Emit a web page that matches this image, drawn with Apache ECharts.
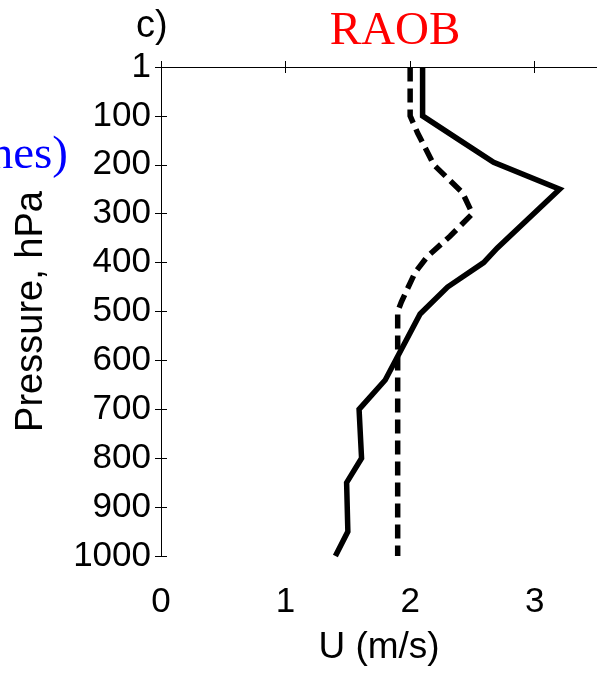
<!DOCTYPE html>
<html>
<head>
<meta charset="utf-8">
<script src="https://cdn.jsdelivr.net/npm/echarts@6/dist/echarts.min.js"></script>
<style>
html,body{margin:0;padding:0;background:#fff;}
#chart{width:597px;height:674px;}
</style>
</head>
<body>
<div id="chart"></div>
<script>
// Solid profile: pressure (hPa) and U (m/s)
var solidP = [1, 100, 150, 195, 250, 370, 400, 450, 505, 640, 700, 800, 850, 950, 1000];
var solidU = [2.10, 2.10, 2.40, 2.67, 3.20, 2.70, 2.59, 2.30, 2.08, 1.80, 1.59, 1.61, 1.49, 1.50, 1.40];
// Dashed profile
var dashP = [1, 100, 135, 200, 257, 300, 346, 387, 420, 480, 500, 1000];
var dashU = [2.00, 2.00, 2.06, 2.19, 2.42, 2.50, 2.32, 2.14, 2.04, 1.93, 1.90, 1.90];
// Tick labels
var yTickLabels = ['1', '100', '200', '300', '400', '500', '600', '700', '800', '900', '1000'];
var xTickLabels = ['0', '1', '2', '3'];

function pairs(us, ps) { return us.map(function (u, i) { return [u, ps[i]]; }); }

var chart = echarts.init(document.getElementById('chart'), null, {renderer: 'canvas'});
var sans = "'Liberation Sans', Arial, Helvetica, sans-serif";
var serif = "'Liberation Serif', 'Times New Roman', serif";
var axisLine = {show: true, lineStyle: {color: '#000', width: 1}};
var tick = {show: true, inside: true, length: 6, lineStyle: {color: '#000', width: 1}};

chart.setOption({
  animation: false,
  backgroundColor: '#fff',
  grid: {left: 161, top: 67, right: -4, bottom: 118, containLabel: false},
  xAxis: [{
    type: 'value', position: 'bottom', min: 0, max: 3.5, interval: 1,
    axisLine: axisLine, axisTick: tick, splitLine: {show: false},
    axisLabel: {
      show: true, margin: 29, color: '#000', fontFamily: sans, fontSize: 35,
      showMaxLabel: false,
      formatter: function (v) { var i = Math.round(v); return (Math.abs(v - i) < 1e-6 && xTickLabels[i] !== undefined) ? xTickLabels[i] : ''; }
    },
    name: 'U (m/s)', nameLocation: 'middle', nameGap: 73,
    nameTextStyle: {color: '#000', fontFamily: sans, fontSize: 37}
  }, {
    type: 'value', position: 'top', min: 0, max: 3.5, interval: 1,
    axisLine: axisLine, axisTick: tick, axisLabel: {show: false}, splitLine: {show: false}
  }],
  yAxis: [{
    type: 'value', position: 'left', inverse: true, min: 0, max: 1000, interval: 100,
    axisLine: axisLine, axisTick: tick, splitLine: {show: false},
    axisLabel: {
      show: true, margin: 10, color: '#000', fontFamily: sans, fontSize: 35,
      padding: [13, 0, 0, 0],
      formatter: function (v) { return yTickLabels[Math.round(v / 100)]; }
    },
    name: 'Pressure, hPa', nameLocation: 'middle', nameGap: 110, nameRotate: 90,
    nameTextStyle: {color: '#000', fontFamily: sans, fontSize: 38}
  }, {
    type: 'value', position: 'right', inverse: true, min: 0, max: 1000, interval: 100,
    axisLine: axisLine, axisTick: tick, axisLabel: {show: false}, splitLine: {show: false}
  }],
  series: [{
    type: 'line', xAxisIndex: 0, yAxisIndex: 0, data: pairs(solidU, solidP),
    showSymbol: false, symbol: 'none',
    lineStyle: {color: '#000', width: 5.5, type: 'solid', join: 'miter', cap: 'butt'}
  }, {
    type: 'line', xAxisIndex: 0, yAxisIndex: 0, data: pairs(dashU, dashP),
    showSymbol: false, symbol: 'none',
    lineStyle: {color: '#000', width: 5.5, type: [14, 7], join: 'miter', cap: 'butt'}
  }],
  graphic: [
    {type: 'text', left: 136, top: 8, style: {text: 'c)', fill: '#000', font: '38px ' + sans}},
    {type: 'text', x: 395, y: 55, style: {text: 'RAOB', fill: '#ff0000', font: '47px ' + serif, textAlign: 'center', textVerticalAlign: 'bottom'}},
    {type: 'text', x: 68, y: 179, style: {text: 'nes)', fill: '#0000ff', font: '47px ' + serif, textAlign: 'right', textVerticalAlign: 'bottom'}}
  ]
});
</script>
</body>
</html>
